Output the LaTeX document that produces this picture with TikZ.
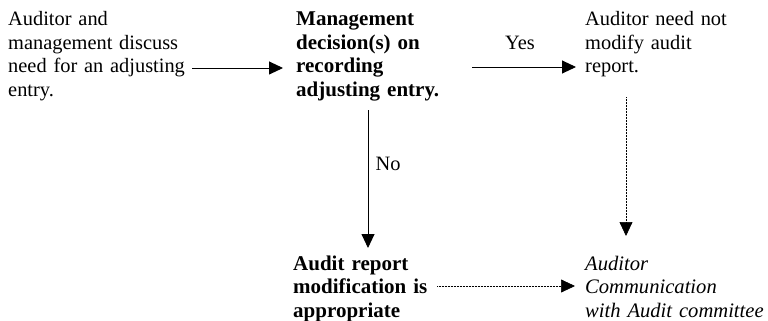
\documentclass[tikz,border=0pt]{standalone}
\usepackage{fontspec}
\setmainfont{Liberation Serif}
\usetikzlibrary{arrows.meta}
\begin{document}
\begin{tikzpicture}[x=1pt,y=1pt,
  txt/.style={anchor=base west,inner sep=0pt,text width=230pt,align=left,font=\fontsize{20.4}{23.5}\selectfont},
  btxt/.style={txt,font=\fontsize{21}{23.5}\selectfont\bfseries},
  itxt/.style={txt,font=\fontsize{20.6}{23.5}\selectfont\itshape},
  lbl/.style={anchor=base,inner sep=0pt,font=\fontsize{20.4}{23.5}\selectfont},
  arr/.style={line width=0.9pt,-{Triangle[length=14pt,width=13pt]}},
  dotarr/.style={line width=0.7pt,dash pattern=on 0.7pt off 0.8pt,-{Triangle[length=14pt,width=13pt]}}]
\useasboundingbox (0,0) rectangle (768,-321);
\node[txt] (disc) at (8,-26) {Auditor and\\management discuss\\need for an adjusting\\entry.};
\node[btxt] (mgmt) at (296,-26) {Management\\decision(s) on\\recording\\adjusting entry.};
\node[txt] (nomod) at (585,-26) {Auditor need not\\modify audit\\report.};
\node[btxt] (mod) at (293,-270) {Audit report\\modification is\\appropriate};
\node[itxt] (comm) at (585,-270) {Auditor\\Communication\\with Audit committee};
\coordinate (a1s) at (192,-68);
\coordinate (a1e) at (283,-68);
\coordinate (a2s) at (472,-67);
\coordinate (a2e) at (576,-67);
\coordinate (a3s) at (368,-110);
\coordinate (a3e) at (368,-248);
\coordinate (a4s) at (626,-97);
\coordinate (a4e) at (626,-236);
\coordinate (a5s) at (437,-286);
\coordinate (a5e) at (575,-286);
\draw[arr] (a1s) -- (a1e);
\draw[arr] (a2s) -- (a2e);
\draw[arr] (a3s) -- (a3e);
\draw[dotarr] (a4s) -- (a4e);
\draw[dotarr] (a5s) -- (a5e);
\node[lbl] (yes) at (520,-49.5) {Yes};
\node[lbl] (no) at (388,-170) {No};
\end{tikzpicture}
\end{document}
